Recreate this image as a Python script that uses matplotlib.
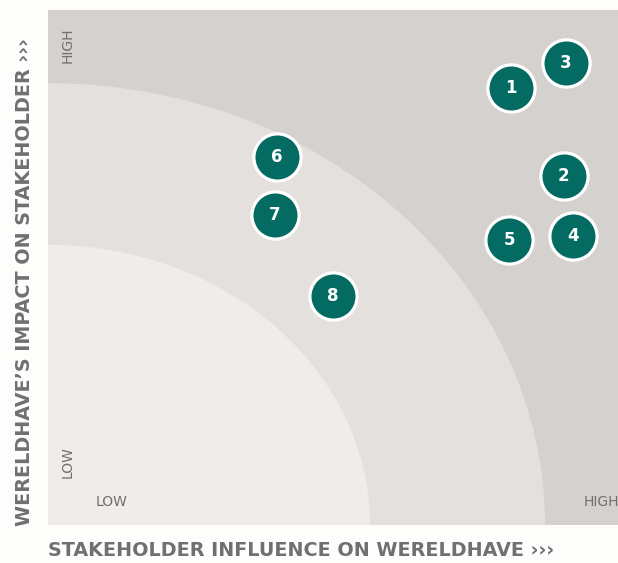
import matplotlib
matplotlib.use("Agg")
import matplotlib.pyplot as plt
from matplotlib.patches import Ellipse

labels = ["1", "2", "3", "4", "5", "6", "7", "8"]
influence = [8.12, 9.05, 9.09, 9.21, 8.09, 4.02, 3.98, 5.00]
impact = [8.49, 6.78, 8.97, 5.61, 5.53, 7.15, 6.02, 4.45]

fig = plt.figure(figsize=(6.18, 5.63), dpi=100)
fig.patch.set_facecolor("#fdfdfc")
ax = fig.add_axes([48/618, 38/563, 570/618, 515/563])
ax.set_xlim(0, 10)
ax.set_ylim(0, 10)
ax.set_facecolor("#d5d1ce")
ax.add_patch(Ellipse((0, 0), 2*8.72, 2*8.58, facecolor="#e3e0dd", edgecolor="none", zorder=1))
ax.add_patch(Ellipse((0, 0), 2*5.65, 2*5.44, facecolor="#efecea", edgecolor="none", zorder=2))
for s in ax.spines.values():
    s.set_visible(False)
ax.set_xticks([])
ax.set_yticks([])

ax.plot(influence, impact, "o", ms=34, mfc="#046b62", mec="white", mew=2.3, zorder=5, clip_on=False)
for l, x, y in zip(labels, influence, impact):
    ax.text(x, y, l, color="white", fontsize=12, fontweight="bold", ha="center", va="center", zorder=6)

gray = "#707070"
ax.text(20/570, 1 - 35/515, "HIGH", transform=ax.transAxes, rotation=90, fontsize=10, color=gray, ha="center", va="center")
ax.text(20/570, 1 - 452/515, "LOW", transform=ax.transAxes, rotation=90, fontsize=10, color=gray, ha="center", va="center")
ax.text(64/570, 23/515, "LOW", transform=ax.transAxes, fontsize=10, color=gray, ha="center", va="center")
ax.text(553/570, 23/515, "HIGH", transform=ax.transAxes, fontsize=10, color=gray, ha="center", va="center", clip_on=False)

fig.text(48/618, 1 - 551/563, "STAKEHOLDER INFLUENCE ON WERELDHAVE \u203a\u203a\u203a", fontsize=13.8, fontweight="bold", color=gray, ha="left", va="center")
fig.text(25/618, 1 - 282/563, "WERELDHAVE\u2019S IMPACT ON STAKEHOLDER \u203a\u203a\u203a", fontsize=13.8, fontweight="bold", color=gray, ha="center", va="center", rotation=90)

fig.savefig("out.png", dpi=100, facecolor=fig.get_facecolor())
